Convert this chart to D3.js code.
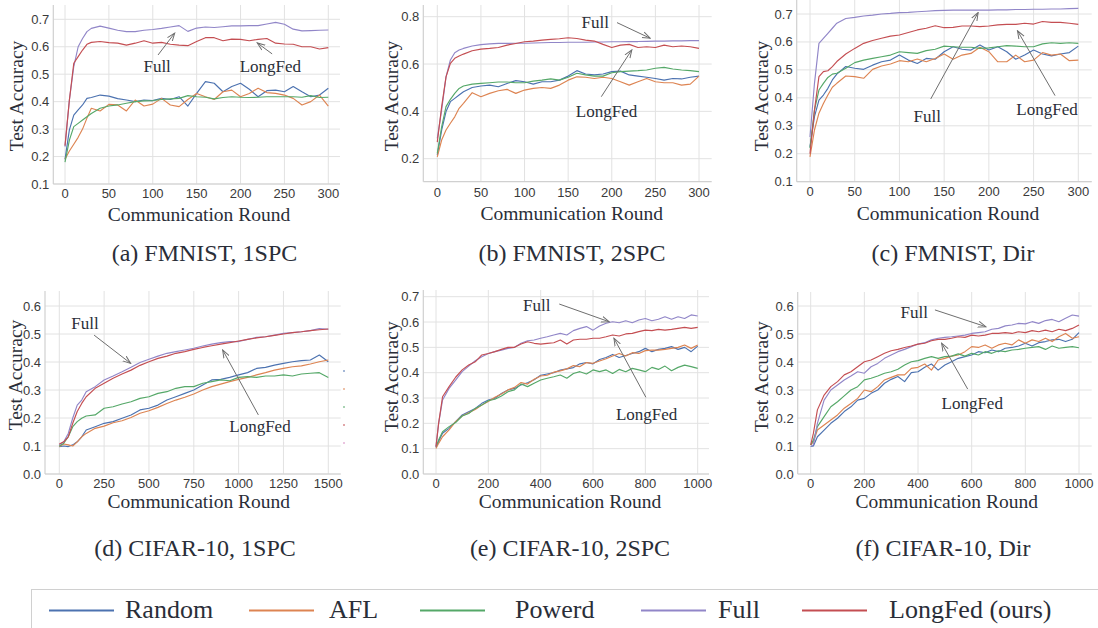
<!DOCTYPE html>
<html>
<head>
<meta charset="utf-8">
<script src="https://cdn.jsdelivr.net/npm/d3@7"></script>
<style>
  body { margin: 0; background: #fff; }
  svg { display: block; }
</style>
</head>
<body>
<div id="chart"></div>
<script>
// methods + colours (seaborn "deep", Full a bit lighter as in the figure)
const methods = ["Random", "AFL", "Powerd", "Full", "LongFed (ours)"];
const colors  = ["#4c72b0", "#dd8452", "#55a868", "#9186c8", "#c44e52"];

const roundsFm = [0,5,10,15,20,25,30,40,50,60,70,80,90,100,110,120,130,140,150,160,170,180,190,200,210,220,230,240,250,260,270,280,290,300];
const roundsC1 = [0,25,50,75,100,125,150,200,250,300,350,400,450,500,550,600,650,700,750,800,850,900,950,1000,1050,1100,1150,1200,1250,1300,1350,1400,1450,1500];
const roundsC2 = [0,10,25,50,75,100,125,150,175,200,225,250,275,300,325,350,375,400,425,450,475,500,525,550,575,600,625,650,675,700,725,750,775,800,825,850,875,900,925,950,975,1000];

// (a) FMNIST, 1SPC
const aRandom  = [0.19,0.297,0.351,0.37,0.388,0.412,0.415,0.424,0.42,0.411,0.406,0.4,0.406,0.404,0.412,0.408,0.418,0.384,0.43,0.473,0.467,0.436,0.455,0.467,0.445,0.418,0.44,0.442,0.436,0.455,0.436,0.418,0.424,0.449];
const aAFL     = [0.19,0.22,0.245,0.27,0.3,0.34,0.376,0.366,0.39,0.388,0.366,0.406,0.384,0.391,0.412,0.388,0.382,0.408,0.43,0.418,0.408,0.436,0.442,0.418,0.43,0.449,0.433,0.43,0.424,0.412,0.388,0.4,0.424,0.384];
const aPowerd  = [0.18,0.26,0.309,0.321,0.333,0.345,0.357,0.376,0.384,0.388,0.394,0.4,0.403,0.404,0.408,0.41,0.412,0.422,0.418,0.416,0.41,0.415,0.418,0.416,0.415,0.416,0.418,0.418,0.418,0.418,0.416,0.422,0.415,0.416];
const aFull    = [0.236,0.406,0.528,0.6,0.63,0.655,0.667,0.675,0.668,0.66,0.655,0.655,0.66,0.663,0.667,0.672,0.677,0.656,0.668,0.672,0.67,0.673,0.676,0.676,0.677,0.677,0.683,0.689,0.682,0.664,0.658,0.659,0.66,0.661];
const aLongFed = [0.24,0.406,0.54,0.564,0.588,0.609,0.616,0.619,0.615,0.613,0.606,0.613,0.622,0.613,0.616,0.609,0.606,0.604,0.619,0.633,0.633,0.622,0.628,0.627,0.622,0.627,0.63,0.613,0.61,0.609,0.6,0.6,0.592,0.597];

// (b) FMNIST, 2SPC
const bRandom  = [0.215,0.321,0.399,0.441,0.455,0.469,0.483,0.501,0.507,0.511,0.504,0.518,0.53,0.525,0.515,0.525,0.525,0.532,0.549,0.572,0.558,0.554,0.558,0.568,0.57,0.554,0.549,0.544,0.539,0.532,0.539,0.537,0.544,0.549];
const bAFL     = [0.208,0.279,0.321,0.35,0.377,0.413,0.434,0.479,0.462,0.476,0.487,0.493,0.476,0.49,0.497,0.501,0.497,0.511,0.532,0.546,0.544,0.539,0.544,0.539,0.525,0.511,0.525,0.539,0.525,0.521,0.521,0.511,0.515,0.549];
const bPowerd  = [0.223,0.335,0.42,0.451,0.476,0.497,0.507,0.515,0.518,0.521,0.524,0.524,0.521,0.521,0.528,0.532,0.537,0.532,0.544,0.561,0.554,0.549,0.549,0.563,0.568,0.57,0.572,0.575,0.582,0.586,0.579,0.575,0.572,0.568];
const bFull    = [0.286,0.406,0.546,0.617,0.648,0.659,0.666,0.676,0.682,0.685,0.687,0.687,0.688,0.688,0.689,0.69,0.691,0.691,0.692,0.692,0.692,0.693,0.693,0.694,0.694,0.695,0.695,0.696,0.697,0.697,0.698,0.698,0.699,0.699];
const bLongFed = [0.27,0.42,0.546,0.603,0.624,0.634,0.642,0.656,0.663,0.666,0.67,0.68,0.687,0.694,0.697,0.701,0.704,0.707,0.711,0.708,0.701,0.697,0.683,0.67,0.68,0.683,0.67,0.673,0.67,0.68,0.673,0.676,0.673,0.666];

// (c) FMNIST, Dir
const cRandom  = [0.225,0.333,0.392,0.41,0.434,0.464,0.485,0.512,0.506,0.502,0.517,0.529,0.535,0.553,0.535,0.523,0.541,0.538,0.565,0.583,0.574,0.571,0.589,0.571,0.583,0.565,0.538,0.553,0.571,0.557,0.55,0.557,0.562,0.585];
const cAFL     = [0.189,0.285,0.345,0.38,0.41,0.438,0.452,0.478,0.476,0.47,0.502,0.514,0.521,0.533,0.529,0.539,0.529,0.541,0.557,0.538,0.553,0.559,0.581,0.565,0.529,0.529,0.553,0.529,0.535,0.562,0.553,0.557,0.533,0.535];
const cPowerd  = [0.22,0.356,0.428,0.452,0.473,0.485,0.488,0.506,0.526,0.535,0.541,0.547,0.553,0.565,0.562,0.559,0.569,0.574,0.585,0.583,0.581,0.581,0.577,0.579,0.583,0.587,0.585,0.583,0.583,0.593,0.597,0.595,0.597,0.595];
const cFull    = [0.26,0.452,0.595,0.613,0.631,0.649,0.667,0.684,0.688,0.693,0.696,0.7,0.702,0.705,0.706,0.708,0.71,0.712,0.713,0.714,0.714,0.714,0.714,0.714,0.715,0.715,0.716,0.716,0.717,0.717,0.718,0.718,0.719,0.72];
const cLongFed = [0.2,0.356,0.476,0.494,0.497,0.512,0.53,0.557,0.577,0.595,0.605,0.613,0.621,0.625,0.634,0.643,0.649,0.658,0.651,0.652,0.657,0.657,0.655,0.657,0.661,0.663,0.663,0.667,0.664,0.673,0.67,0.67,0.667,0.663];

// (d) CIFAR-10, 1SPC
const dRandom  = [0.098,0.1,0.098,0.104,0.115,0.133,0.157,0.169,0.181,0.187,0.199,0.211,0.229,0.235,0.246,0.264,0.276,0.288,0.3,0.318,0.336,0.338,0.345,0.354,0.362,0.377,0.381,0.389,0.395,0.401,0.405,0.407,0.425,0.401];
const dAFL     = [0.098,0.107,0.104,0.1,0.115,0.133,0.145,0.163,0.171,0.183,0.19,0.202,0.217,0.226,0.238,0.252,0.264,0.274,0.286,0.3,0.312,0.321,0.33,0.338,0.345,0.354,0.362,0.371,0.377,0.383,0.386,0.393,0.401,0.407];
const dPowerd  = [0.1,0.11,0.133,0.169,0.187,0.199,0.207,0.211,0.235,0.24,0.25,0.258,0.27,0.276,0.288,0.294,0.306,0.312,0.312,0.324,0.33,0.336,0.333,0.345,0.348,0.345,0.35,0.35,0.354,0.35,0.357,0.36,0.362,0.345];
const dFull    = [0.104,0.115,0.145,0.2,0.246,0.264,0.294,0.312,0.336,0.35,0.365,0.381,0.398,0.41,0.421,0.431,0.437,0.443,0.449,0.457,0.464,0.469,0.473,0.473,0.481,0.488,0.49,0.496,0.502,0.505,0.508,0.512,0.519,0.517];
const dLongFed = [0.107,0.115,0.133,0.181,0.223,0.252,0.276,0.306,0.324,0.342,0.357,0.371,0.388,0.401,0.413,0.421,0.431,0.437,0.445,0.452,0.458,0.464,0.469,0.475,0.481,0.486,0.49,0.495,0.5,0.505,0.508,0.512,0.515,0.518];

// (e) CIFAR-10, 2SPC
const eRandom  = [0.105,0.128,0.161,0.18,0.207,0.233,0.246,0.259,0.279,0.292,0.299,0.318,0.332,0.338,0.352,0.36,0.372,0.39,0.395,0.4,0.41,0.415,0.42,0.435,0.44,0.435,0.452,0.46,0.472,0.46,0.468,0.476,0.483,0.496,0.483,0.492,0.496,0.503,0.492,0.5,0.483,0.505];
const eAFL     = [0.101,0.121,0.147,0.174,0.207,0.229,0.242,0.255,0.272,0.286,0.303,0.316,0.332,0.342,0.361,0.355,0.374,0.387,0.39,0.402,0.407,0.415,0.428,0.424,0.44,0.437,0.446,0.455,0.466,0.476,0.466,0.479,0.476,0.487,0.489,0.489,0.492,0.496,0.5,0.509,0.496,0.509];
const ePowerd  = [0.108,0.134,0.167,0.187,0.203,0.229,0.239,0.259,0.272,0.289,0.295,0.308,0.325,0.332,0.355,0.345,0.358,0.371,0.378,0.384,0.391,0.378,0.397,0.404,0.395,0.411,0.404,0.411,0.397,0.413,0.404,0.417,0.411,0.404,0.421,0.413,0.426,0.408,0.421,0.43,0.424,0.417];
const eFull    = [0.108,0.2,0.292,0.338,0.371,0.404,0.426,0.447,0.463,0.476,0.483,0.489,0.496,0.5,0.516,0.526,0.529,0.536,0.542,0.549,0.555,0.549,0.566,0.575,0.582,0.568,0.584,0.595,0.601,0.597,0.605,0.597,0.608,0.614,0.605,0.611,0.621,0.611,0.621,0.614,0.628,0.624];
const eLongFed = [0.108,0.2,0.305,0.345,0.382,0.411,0.43,0.443,0.47,0.476,0.483,0.492,0.5,0.5,0.513,0.522,0.516,0.513,0.516,0.518,0.529,0.513,0.529,0.532,0.532,0.536,0.536,0.542,0.549,0.545,0.553,0.555,0.562,0.568,0.566,0.571,0.568,0.571,0.575,0.579,0.575,0.579];

// (f) CIFAR-10, Dir
const fRandom  = [0.098,0.1,0.133,0.157,0.181,0.199,0.223,0.24,0.264,0.27,0.288,0.3,0.324,0.338,0.348,0.33,0.362,0.365,0.381,0.393,0.371,0.389,0.401,0.413,0.419,0.425,0.437,0.433,0.443,0.437,0.449,0.452,0.457,0.467,0.457,0.469,0.473,0.479,0.481,0.473,0.481,0.505];
const fAFL     = [0.104,0.115,0.157,0.175,0.193,0.211,0.235,0.252,0.27,0.3,0.294,0.312,0.336,0.345,0.354,0.354,0.377,0.381,0.393,0.371,0.407,0.413,0.421,0.425,0.437,0.455,0.452,0.461,0.449,0.461,0.467,0.461,0.479,0.467,0.479,0.473,0.485,0.473,0.49,0.502,0.485,0.49];
const fPowerd  = [0.104,0.121,0.169,0.205,0.24,0.258,0.279,0.3,0.312,0.336,0.342,0.35,0.36,0.365,0.374,0.389,0.401,0.405,0.413,0.419,0.413,0.419,0.421,0.429,0.421,0.431,0.425,0.437,0.431,0.44,0.437,0.443,0.445,0.449,0.452,0.455,0.445,0.457,0.449,0.452,0.455,0.451];
const fFull    = [0.098,0.104,0.181,0.264,0.3,0.318,0.336,0.35,0.365,0.36,0.383,0.395,0.413,0.425,0.437,0.445,0.455,0.464,0.469,0.479,0.485,0.488,0.49,0.493,0.496,0.502,0.505,0.508,0.517,0.52,0.529,0.532,0.538,0.536,0.544,0.538,0.548,0.552,0.544,0.556,0.568,0.564];
const fLongFed = [0.104,0.145,0.229,0.282,0.312,0.33,0.354,0.365,0.383,0.401,0.407,0.419,0.431,0.44,0.445,0.452,0.457,0.464,0.467,0.476,0.481,0.481,0.485,0.49,0.488,0.496,0.493,0.496,0.502,0.502,0.505,0.502,0.508,0.505,0.512,0.508,0.514,0.508,0.517,0.512,0.52,0.532];

// tick labels
const xTicksFm = [0,50,100,150,200,250,300];
const xTicksC1 = [0,250,500,750,1000,1250,1500];
const xTicksC2 = [0,200,400,600,800,1000];
const yTicksA  = [0.1,0.2,0.3,0.4,0.5,0.6,0.7];
const yTicksB  = [0.2,0.4,0.6,0.8];
const yTicksD  = [0.0,0.1,0.2,0.3,0.4,0.5,0.6];
const yTicksE  = [0.0,0.1,0.2,0.3,0.4,0.5,0.6,0.7];

const captions = ["(a) FMNIST, 1SPC", "(b) FMNIST, 2SPC", "(c) FMNIST, Dir",
                  "(d) CIFAR-10, 1SPC", "(e) CIFAR-10, 2SPC", "(f) CIFAR-10, Dir"];

// annotations in data coords: [label, textX, textY, fromX, fromY, toX, toY]
const annA = [["Full",105,0.527,106,0.57,125,0.65], ["LongFed",234,0.527,236,0.574,219,0.614]];
const annB = [["Full",181,0.775,206,0.775,244,0.709], ["LongFed",194,0.399,188,0.462,223,0.66]];
const annC = [["Full",131,0.333,135,0.396,188,0.705], ["LongFed",265,0.357,274,0.408,232,0.64]];
const annD = [["Full",143,0.538,194,0.496,398,0.395], ["LongFed",1119,0.169,1110,0.211,911,0.443]];
const annE = [["Full",385,0.667,471,0.671,662,0.601], ["LongFed",805,0.233,802,0.303,680,0.536]];
const annF = [["Full",386,0.576,463,0.586,653,0.526], ["LongFed",602,0.2525,585,0.3036,488,0.467]];

// ---------- layout ----------
const W = 1098, H = 628;
const serif = "'Liberation Serif', 'Times New Roman', serif";
const sans = "'Liberation Sans', Arial, sans-serif";

const panels = [
  {rounds: roundsFm, series: [aRandom,aAFL,aPowerd,aFull,aLongFed], ann: annA,
   box: {l:53.3, r:340, t:5, b:184}, xr:[65,328.3], xMax:300, yd:[0.1,0.7], yr:[184,19.3],
   xTicks: xTicksFm, yTicks: yTicksA, tickOff: 9, ylab:[16.7,96], xlab:[199,220.5], cap:[204.5,261]},
  {rounds: roundsFm, series: [bRandom,bAFL,bPowerd,bFull,bLongFed], ann: annB,
   box: {l:423.3, r:711.7, t:5, b:181.7}, xr:[437.3,699], xMax:300, yd:[0.2,0.8], yr:[158.7,16.7],
   xTicks: xTicksFm, yTicks: yTicksB, tickOff: 11, ylab:[391.7,96], xlab:[571.7,220], cap:[572,261]},
  {rounds: roundsFm, series: [cRandom,cAFL,cPowerd,cFull,cLongFed], ann: annC,
   box: {l:796.7, r:1091.7, t:-1, b:181.7}, xr:[810,1078.3], xMax:300, yd:[0.1,0.7], yr:[181.7,14],
   xTicks: xTicksFm, yTicks: yTicksA, tickOff: 10, ylab:[761.7,96], xlab:[948,220], cap:[953,261]},
  {rounds: roundsC1, series: [dRandom,dAFL,dPowerd,dFull,dLongFed], ann: annD,
   box: {l:45, r:340.7, t:291, b:474}, xr:[59.3,328.3], xMax:1500, yd:[0,0.6], yr:[474,306],
   xTicks: xTicksC1, yTicks: yTicksD, tickOff: 9, ylab:[15,375], xlab:[198.8,508.3], cap:[195,556]},
  {rounds: roundsC2, series: [eRandom,eAFL,ePowerd,eFull,eLongFed], ann: annE,
   box: {l:423.3, r:709, t:290, b:474}, xr:[436,697.7], xMax:1000, yd:[0,0.7], yr:[474,296.7],
   xTicks: xTicksC2, yTicks: yTicksE, tickOff: 9, ylab:[391.7,376.7], xlab:[570,508.3], cap:[570,556]},
  {rounds: roundsC2, series: [fRandom,fAFL,fPowerd,fFull,fLongFed], ann: annF,
   box: {l:797.7, r:1091.7, t:292, b:474}, xr:[810.7,1079], xMax:1000, yd:[0,0.6], yr:[474,306],
   xTicks: xTicksC2, yTicks: yTicksD, tickOff: 9, ylab:[761.7,376.7], xlab:[946.7,508.3], cap:[943,556]}
];

const svg = d3.select("#chart").append("svg")
  .attr("width", W).attr("height", H)
  .attr("viewBox", [0, 0, W, H]);

svg.append("rect").attr("width", W).attr("height", H).attr("fill", "#fff");

svg.append("defs").append("marker")
  .attr("id", "arrowhead")
  .attr("markerUnits", "userSpaceOnUse")
  .attr("markerWidth", 9).attr("markerHeight", 8)
  .attr("refX", 8).attr("refY", 4)
  .attr("orient", "auto")
  .append("path")
  .attr("d", "M0,1 L8,4 L0,7")
  .attr("fill", "none")
  .attr("stroke", "#6e6e6e")
  .attr("stroke-width", 1);

const fmt = d3.format(".1f");

panels.forEach((p, pi) => {
  const x = d3.scaleLinear().domain([0, p.xMax]).range(p.xr);
  const y = d3.scaleLinear().domain(p.yd).range(p.yr);
  const b = p.box;
  const g = svg.append("g");

  // grid
  g.selectAll(".hgrid").data(p.yTicks).join("line")
    .attr("x1", b.l).attr("x2", b.r)
    .attr("y1", d => y(d)).attr("y2", d => y(d))
    .attr("stroke", "#e2e2e2").attr("stroke-width", 1);
  g.selectAll(".vgrid").data(p.xTicks).join("line")
    .attr("x1", d => x(d)).attr("x2", d => x(d))
    .attr("y1", b.t).attr("y2", b.b)
    .attr("stroke", "#e2e2e2").attr("stroke-width", 1);

  // spines
  g.append("line").attr("x1", b.l).attr("x2", b.l).attr("y1", b.t).attr("y2", b.b)
    .attr("stroke", "#d0d0d0").attr("stroke-width", 1.2);
  g.append("line").attr("x1", b.l).attr("x2", b.r).attr("y1", b.b).attr("y2", b.b)
    .attr("stroke", "#d0d0d0").attr("stroke-width", 1.2);

  // tick labels
  g.selectAll(".xt").data(p.xTicks).join("text")
    .attr("x", d => x(d)).attr("y", b.b + p.tickOff)
    .attr("text-anchor", "middle").attr("dominant-baseline", "central")
    .style("font-family", sans).style("font-size", "13px").attr("fill", "#3a3a3a")
    .text(d => d);
  g.selectAll(".yt").data(p.yTicks).join("text")
    .attr("x", b.l - 4).attr("y", d => y(d))
    .attr("text-anchor", "end").attr("dominant-baseline", "central")
    .style("font-family", sans).style("font-size", "13px").attr("fill", "#3a3a3a")
    .text(d => fmt(d));

  // axis titles
  g.append("text")
    .attr("transform", `translate(${p.ylab[0]},${p.ylab[1]}) rotate(-90)`)
    .attr("text-anchor", "middle").attr("dominant-baseline", "central")
    .style("font-family", serif).style("font-size", "19.5px").attr("fill", "#2a2e38")
    .text("Test Accuracy");
  g.append("text")
    .attr("x", p.xlab[0]).attr("y", p.xlab[1])
    .attr("text-anchor", "middle")
    .style("font-family", serif).style("font-size", "19.5px").attr("fill", "#2a2e38")
    .text("Communication Round");

  // series
  const line = d3.line()
    .x((d, i) => x(p.rounds[i]))
    .y(d => y(d));
  g.selectAll(".series").data(p.series).join("path")
    .attr("d", line)
    .attr("fill", "none")
    .attr("stroke", (d, i) => colors[i])
    .attr("stroke-width", 1.15)
    .attr("stroke-linejoin", "round");

  // annotations
  p.ann.forEach(a => {
    g.append("line")
      .attr("x1", x(a[3])).attr("y1", y(a[4]))
      .attr("x2", x(a[5])).attr("y2", y(a[6]))
      .attr("stroke", "#6e6e6e").attr("stroke-width", 1)
      .attr("marker-end", "url(#arrowhead)");
    g.append("text")
      .attr("x", x(a[1])).attr("y", y(a[2]))
      .attr("text-anchor", "middle").attr("dominant-baseline", "central")
      .style("font-family", serif).style("font-size", "17px").attr("fill", "#2a2e38")
      .text(a[0]);
  });

  // caption
  svg.append("text")
    .attr("x", p.cap[0]).attr("y", p.cap[1])
    .attr("text-anchor", "middle")
    .style("font-family", serif).style("font-size", "24px").attr("fill", "#2a2e38")
    .text(captions[pi]);
});

// stray legend handles peeking out right of panel (d)
const strayY = [371, 389, 407, 425, 443];
svg.selectAll(".stray").data(strayY).join("line")
  .attr("x1", 343).attr("x2", 345)
  .attr("y1", d => d).attr("y2", d => d)
  .attr("stroke", (d, i) => [colors[0], colors[1], colors[2], colors[4], "#d88cc4"][i])
  .attr("stroke-width", 1.2);

// legend
const legend = svg.append("g");
legend.append("rect")
  .attr("x", 31.5).attr("y", 589.5).attr("width", 1090).attr("height", 60)
  .attr("fill", "#fff").attr("stroke", "#d0d0d0").attr("stroke-width", 1);
const lineX = [49, 249, 420, 641, 802];
const textX = [125, 329, 515, 718, 889];
const items = legend.selectAll(".item").data(methods).join("g");
items.append("line")
  .attr("x1", (d, i) => lineX[i]).attr("x2", (d, i) => lineX[i] + 65)
  .attr("y1", 610.5).attr("y2", 610.5)
  .attr("stroke", (d, i) => colors[i]).attr("stroke-width", 2);
items.append("text")
  .attr("x", (d, i) => textX[i]).attr("y", 617.5)
  .style("font-family", serif).style("font-size", "26px").attr("fill", "#2a2e38")
  .text(d => d);
</script>
</body>
</html>
